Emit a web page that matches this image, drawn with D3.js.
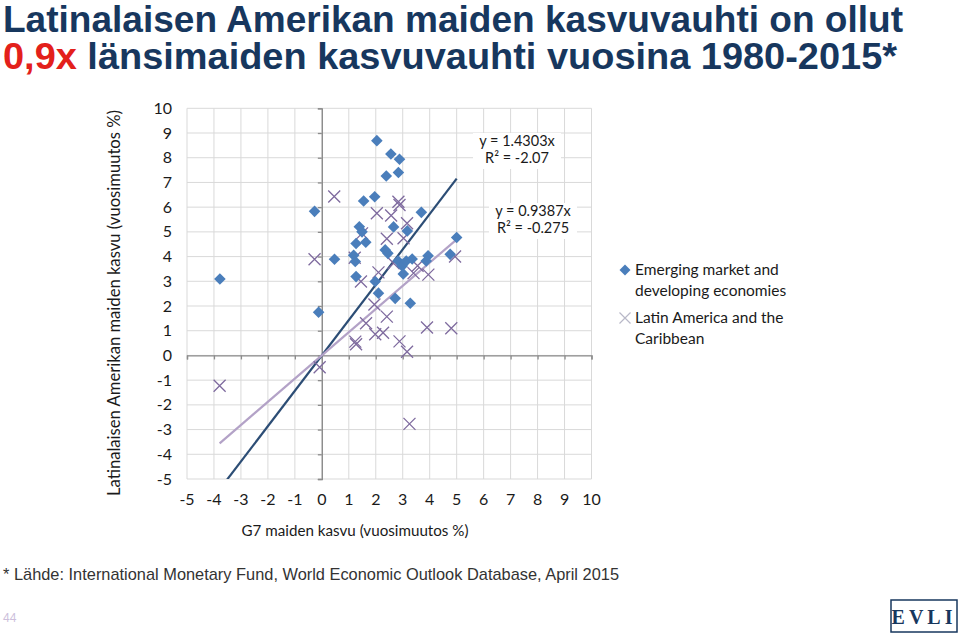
<!DOCTYPE html>
<html><head><meta charset="utf-8">
<script src="https://cdn.jsdelivr.net/npm/d3@7"></script>
<style>
html,body{margin:0;padding:0;background:#fff;}
svg{display:block;}
</style></head>
<body>
<script>
// ---- data ----
const emergingX = [-3.78,-0.27,0.47,-0.12,2.04,2.56,2.88,2.39,2.84,1.55,1.96,3.69,1.39,1.49,2.66,3.17,5.0,1.27,1.63,1.18,1.24,2.35,2.45,2.83,2.98,3.13,3.35,3.02,3.94,4.76,1.27,1.98,2.10,2.72,3.28,3.87];
const emergingY = [3.09,5.83,3.89,1.75,8.69,8.15,7.94,7.26,7.40,6.25,6.42,5.79,5.21,5.00,5.20,5.04,4.77,4.53,4.58,4.05,3.80,4.27,4.13,3.82,3.62,3.82,3.90,3.30,4.03,4.09,3.19,2.99,2.52,2.31,2.11,3.82];
const latamX = [0.46,-0.27,-3.79,-0.08,2.84,2.88,2.04,2.57,3.16,1.49,2.41,3.03,1.22,2.66,3.55,4.94,2.10,3.40,3.95,1.45,1.95,2.41,1.64,3.90,4.80,1.98,2.27,1.24,1.27,2.88,3.16,3.25];
const latamY = [6.43,3.89,-1.23,-0.48,6.22,6.09,5.75,5.66,5.35,4.94,4.72,4.74,3.95,3.73,3.63,4.00,3.36,3.33,3.27,2.99,2.06,1.57,1.30,1.13,1.10,0.86,0.92,0.56,0.45,0.57,0.15,-2.77];
const slopes = [1.4303, 0.9387];
const eqLabels = [["y = 1.4303x","R² = -2.07"],["y = 0.9387x","R² = -0.275"]];
const tickValues = [-5,-4,-3,-2,-1,0,1,2,3,4,5,6,7,8,9,10];
const yTickValues = [-5,-4,-3,-2,-1,0,1,2,3,4,5,6,7,8,9,10];
const seriesNames = [["Emerging market and","developing economies"],["Latin America and the","Caribbean"]];
const titleLine1 = "Latinalaisen Amerikan maiden kasvuvauhti on ollut";
const titleRed = "0,9x";
const titleRest = " länsimaiden kasvuvauhti vuosina 1980-2015*";
const xTitle = "G7 maiden kasvu (vuosimuutos %)";
const yTitle = "Latinalaisen Amerikan maiden kasvu (vuosimuutos %)";
const source = "* Lähde: International Monetary Fund, World Economic Outlook Database, April 2015";

const W=960,H=633;
const svg=d3.select("body").append("svg").attr("width",W).attr("height",H);
const navy="#17375E";
const blue="#4A7EBB", purple="#7E6A9E", darkLine="#2C4D75", lightLine="#B3A2C7";
const fontC="Lato, 'Open Sans', sans-serif";

// title
svg.append("text").attr("x",3).attr("y",32).attr("font-family","'Liberation Sans',Arial,sans-serif")
  .attr("font-weight","bold").attr("font-size",37).attr("fill",navy)
  .attr("textLength",900).attr("lengthAdjust","spacingAndGlyphs").text(titleLine1);
const t2=svg.append("text").attr("x",3).attr("y",69).attr("font-family","'Liberation Sans',Arial,sans-serif")
  .attr("font-weight","bold").attr("font-size",37).attr("fill",navy)
  .attr("textLength",894).attr("lengthAdjust","spacingAndGlyphs");
t2.append("tspan").attr("fill","#E3201B").text(titleRed);
t2.append("tspan").text(titleRest);

// scales
const x=d3.scaleLinear().domain([-5,10]).range([187,591.5]);
const y=d3.scaleLinear().domain([-5,10]).range([479,108.3]);

// gridlines
const g=svg.append("g");
g.selectAll("line.vx").data(tickValues).join("line")
  .attr("x1",d=>x(d)).attr("x2",d=>x(d)).attr("y1",y(10)).attr("y2",y(-5))
  .attr("stroke","#D9D9D9").attr("stroke-width",1);
g.selectAll("line.hy").data(yTickValues).join("line")
  .attr("y1",d=>y(d)).attr("y2",d=>y(d)).attr("x1",x(-5)).attr("x2",x(10))
  .attr("stroke","#D9D9D9").attr("stroke-width",1);

// axes through zero
const yAxis=d3.axisLeft(y).tickValues(yTickValues).tickSize(4).tickFormat("");
const xAxis=d3.axisBottom(x).tickValues(tickValues).tickSize(4).tickFormat("");
const ya=svg.append("g").attr("transform",`translate(${x(0)},0)`).call(yAxis);
const xa=svg.append("g").attr("transform",`translate(0,${y(0)})`).call(xAxis);
[ya,xa].forEach(a=>{a.selectAll("path,line").attr("stroke","#8C8C8C").attr("stroke-width",1.3);});

// tick labels at plot edges
svg.append("g").selectAll("text").data(tickValues).join("text")
  .attr("x",d=>x(d)).attr("y",505).attr("text-anchor","middle")
  .attr("font-family",fontC).attr("font-size",16).attr("fill","#1a1a1a").text(d=>d);
svg.append("g").selectAll("text").data(yTickValues).join("text")
  .attr("x",172).attr("y",d=>y(d)+5.5).attr("text-anchor","end")
  .attr("font-family",fontC).attr("font-size",16).attr("fill","#1a1a1a").text(d=>d);

// axis titles
svg.append("text").attr("x",355).attr("y",536).attr("text-anchor","middle")
  .attr("font-family",fontC).attr("font-size",15.5).attr("fill","#1a1a1a")
  .attr("textLength",227).attr("lengthAdjust","spacingAndGlyphs").text(xTitle);
svg.append("text").attr("transform","translate(120,303) rotate(-90)").attr("text-anchor","middle")
  .attr("font-family",fontC).attr("font-size",16.5).attr("fill","#1a1a1a")
  .attr("textLength",386).attr("lengthAdjust","spacingAndGlyphs").text(yTitle);

// trend lines
svg.append("clipPath").attr("id","pc").append("rect")
  .attr("x",x(-5)).attr("y",y(10)).attr("width",x(10)-x(-5)).attr("height",y(-5)-y(10));
const allX=[emergingX,latamX];
const lineCols=[darkLine,lightLine];
slopes.forEach((s,i)=>{
  const xs=d3.extent(allX[i]);
  svg.append("line").attr("clip-path","url(#pc)")
    .attr("x1",x(xs[0])).attr("y1",y(s*xs[0])).attr("x2",x(xs[1])).attr("y2",y(s*xs[1]))
    .attr("stroke",lineCols[i]).attr("stroke-width",2.2);
});

// points
const diamond=(cx,cy,r)=>`M${cx},${cy-r}L${cx+r},${cy}L${cx},${cy+r}L${cx-r},${cy}Z`;
const xMark=(cx,cy,r)=>`M${cx-r},${cy-r}L${cx+r},${cy+r}M${cx-r},${cy+r}L${cx+r},${cy-r}`;
svg.append("g").selectAll("path").data(latamX.map((d,i)=>[d,latamY[i]])).join("path")
  .attr("d",d=>xMark(x(d[0]),y(d[1]),6)).attr("stroke",purple).attr("stroke-width",1.3).attr("fill","none");
svg.append("g").selectAll("path").data(emergingX.map((d,i)=>[d,emergingY[i]])).join("path")
  .attr("d",d=>diamond(x(d[0]),y(d[1]),5.8)).attr("fill",blue);

// equation labels
const eqPos=[[517,146],[533,216]];
eqLabels.forEach((lab,i)=>{
  const gg=svg.append("g");
  gg.append("rect").attr("x",eqPos[i][0]-44).attr("y",eqPos[i][1]-13).attr("width",88).attr("height",36).attr("fill","#fff");
  lab.forEach((t,j)=>{
    gg.append("text").attr("x",eqPos[i][0]).attr("y",eqPos[i][1]+j*17)
      .attr("text-anchor","middle").attr("font-family",fontC).attr("font-size",14.5).attr("fill","#1a1a1a").text(t);
  });
});

// legend
const lg=svg.append("g");
lg.append("path").attr("d",diamond(625,270,5.5)).attr("fill",blue);
lg.append("path").attr("d",xMark(625,318,5.5)).attr("stroke","#B8B8C8").attr("stroke-width",1.2).attr("fill","none");
seriesNames.forEach((lines,i)=>{
  lines.forEach((t,j)=>{
    lg.append("text").attr("x",635).attr("y",275+i*48+j*21)
      .attr("font-family",fontC).attr("font-size",15.5).attr("fill","#1a1a1a").text(t);
  });
});

// footer
svg.append("text").attr("x",3).attr("y",580).attr("font-family","'Liberation Sans',Arial,sans-serif")
  .attr("font-size",17).attr("fill","#333").attr("textLength",616).attr("lengthAdjust","spacingAndGlyphs").text(source);
svg.append("text").attr("x",3).attr("y",622).attr("font-family","'Liberation Sans',Arial,sans-serif")
  .attr("font-size",12).attr("fill","#CDBFDC").text("44");
svg.append("rect").attr("x",891).attr("y",600).attr("width",66).attr("height",32)
  .attr("fill","#fff").attr("stroke",navy).attr("stroke-width",1.5);
svg.append("text").attr("x",924).attr("y",624).attr("text-anchor","middle")
  .attr("font-family","'Liberation Serif','DejaVu Serif',serif").attr("font-weight","bold")
  .attr("font-size",20).attr("letter-spacing",4).attr("fill",navy).text("EVLI");
</script>
</body></html>
